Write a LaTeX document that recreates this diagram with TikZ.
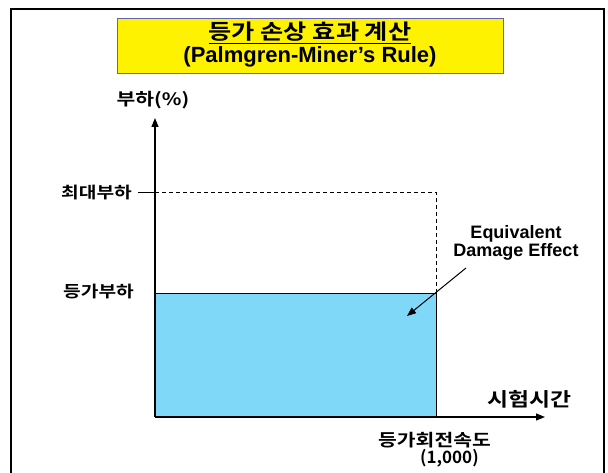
\documentclass[tikz,border=0pt]{standalone}
\usepackage{fontspec}
\setmainfont{Liberation Sans}
\newfontfamily\kr{Noto Sans CJK KR Bold}
\newfontfamily\krw{Noto Sans CJK KR Bold}[FakeStretch=1.2]
\usetikzlibrary{arrows.meta}
\definecolor{boxfill}{RGB}{128,216,248}
\definecolor{titleedge}{RGB}{100,100,170}
\tikzset{
  krlabel/.style={font=\krw\fontsize{16}{18}\selectfont, inner sep=0pt},
  axisline/.style={line width=1.2pt, -{Triangle[length=9pt,width=7pt]}},
}
\begin{document}
\begin{tikzpicture}[x=1pt,y=1pt]
\useasboundingbox (0,0) rectangle (608,472);
\clip (0,0) rectangle (608,472);
% outer frame
\coordinate (fbl) at (11,-10);
\coordinate (ftl) at (11,463);
\coordinate (ftr) at (604,463);
\coordinate (fbr) at (604,-10);
\draw[line width=2pt] (fbl) -- (ftl) -- (ftr) -- (fbr);
% title
\node[draw=titleedge, line width=1pt, fill=yellow, minimum width=386pt, minimum height=55pt, inner sep=0pt] (title) at (310,425.5) {};
\node[font=\krw\fontsize{21}{24}\selectfont, inner sep=0pt] (t1) at (310,439) {\underline{등가 손상 효과 계산}};
\node[font=\bfseries\fontsize{22}{24}\selectfont, inner sep=0pt] (t2) at (310,415) {(Palmgren-Miner’s Rule)};
% coordinates
\coordinate (o) at (155,55);
\coordinate (ytip) at (155,354);
\coordinate (xtip) at (545,55);
\coordinate (rtop) at (436,179);
\coordinate (maxl) at (138,280);
\coordinate (maxy) at (155,280);
\coordinate (maxr) at (436,280);
% fill rect
\fill[boxfill] (o) rectangle (rtop);
\draw[line width=1pt] (o |- rtop) -- (rtop) -- (rtop |- o);
% dashed
\draw[line width=0.8pt] (maxl) -- (maxy);
\draw[line width=0.8pt, dash pattern=on 4pt off 3pt] (maxy) -- (maxr) -- (rtop);
% axes
\draw[axisline] (o) -- (ytip);
\draw[axisline] (o) -- (xtip);
% labels
\node[font=\krw\fontsize{17}{20}\selectfont, inner sep=0pt] (ylab) at (153,372) {부하(\%)};
\node[krlabel, anchor=west] (maxlab) at (61,279) {최대부하};
\node[krlabel, anchor=west] (eqlab) at (63,181) {등가부하};
\node[font=\krw\fontsize{19}{22}\selectfont, inner sep=0pt, anchor=west] (xlab) at (487,73) {시험시간};
\node[font=\krw\fontsize{17}{20}\selectfont, inner sep=0pt, anchor=west] (spd) at (378,32) {등가회전속도};
\node[font=\kr\fontsize{17}{20}\selectfont, inner sep=0pt, anchor=west] (spdv) at (420,14) {(1,000)};
% effect label
\node[font=\bfseries\fontsize{18}{20}\selectfont, align=center, inner sep=0pt] (eff) at (516,229) {Equivalent\\[-2pt]Damage Effect};
\coordinate (as) at (466,204);
\coordinate (ae) at (407,156);
\draw[line width=1pt, -{Triangle[length=9pt,width=7pt]}] (as) -- (ae);
\end{tikzpicture}
\end{document}
